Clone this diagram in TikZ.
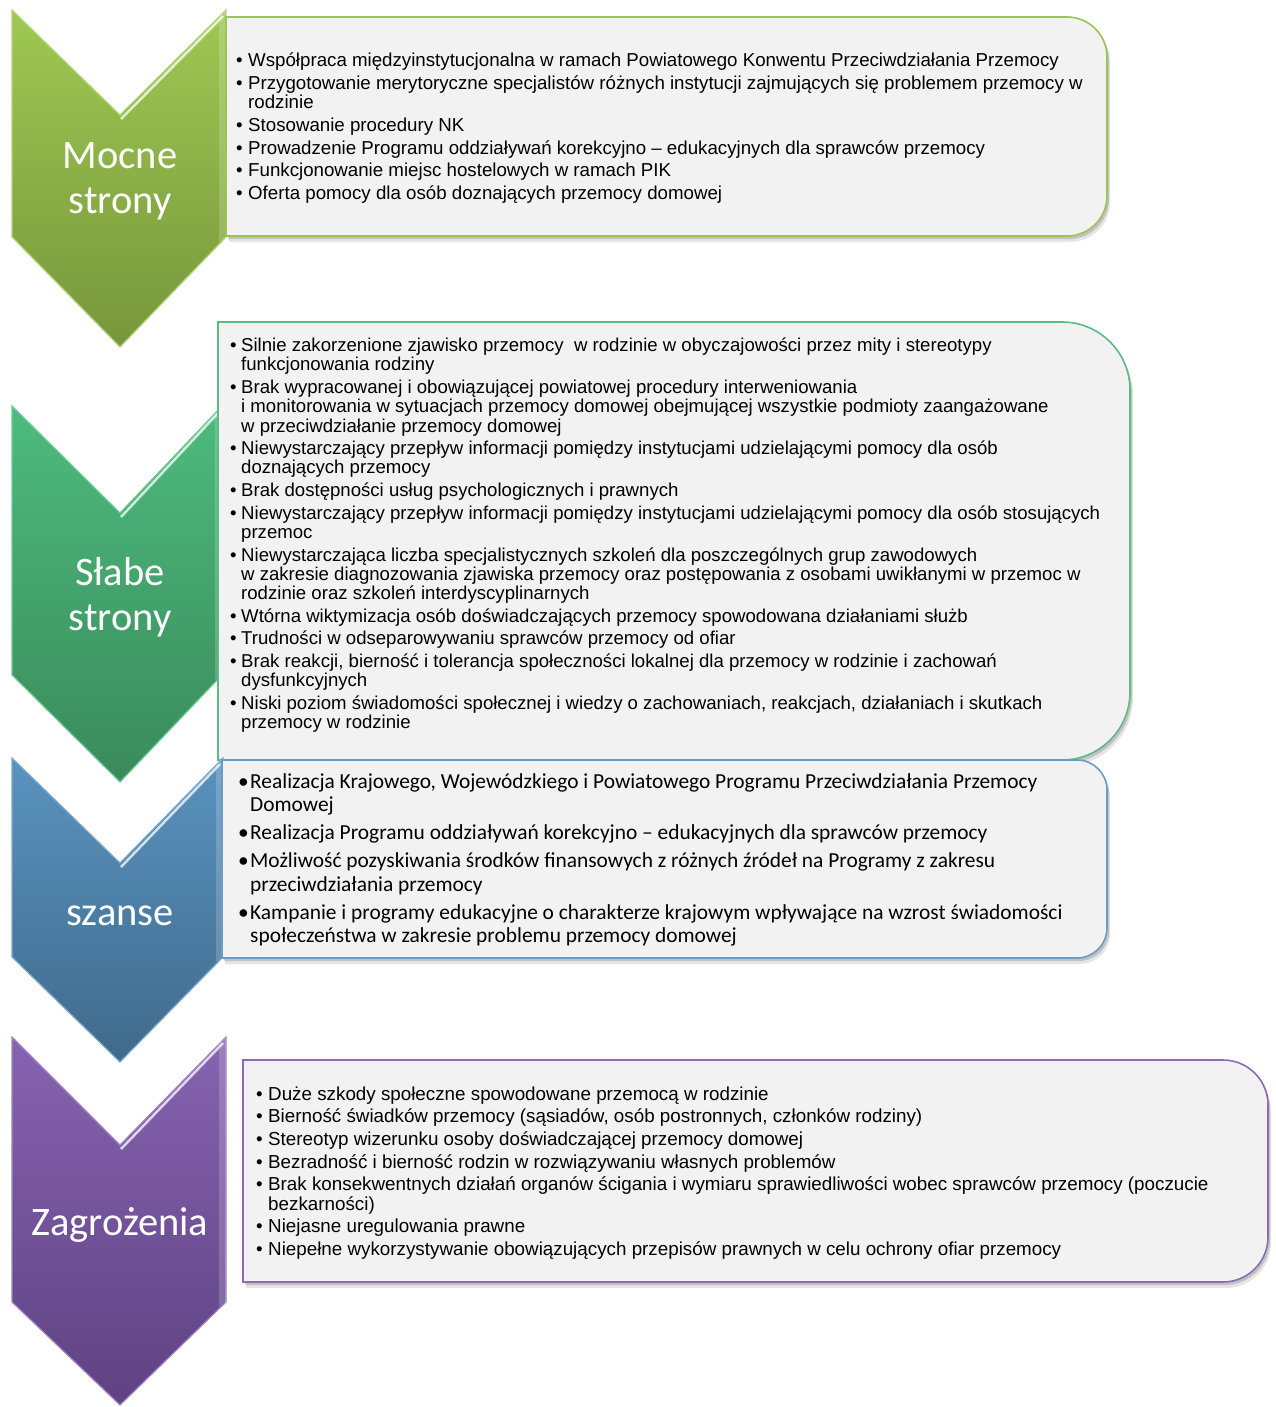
\documentclass[tikz,border=0pt]{standalone}
\usepackage{fontspec}
\setmainfont{Liberation Sans}
\newfontfamily\calfont{Carlito}
\usetikzlibrary{calc}
\definecolor{c1t}{HTML}{9FC853}\definecolor{c1b}{HTML}{77963B}\definecolor{c1e}{HTML}{B3D67A}
\definecolor{c2t}{HTML}{4DBB7E}\definecolor{c2b}{HTML}{3A8A5B}\definecolor{c2e}{HTML}{6FCB95}
\definecolor{c3t}{HTML}{5A93BF}\definecolor{c3b}{HTML}{3F6A8B}\definecolor{c3e}{HTML}{7FA9CE}
\definecolor{c4t}{HTML}{8763B1}\definecolor{c4b}{HTML}{5E4282}\definecolor{c4e}{HTML}{A287C6}
\definecolor{b1}{HTML}{9BC452}\definecolor{b2}{HTML}{5CBB85}\definecolor{b3}{HTML}{6A9CC6}\definecolor{b4}{HTML}{8C6CB4}
\definecolor{boxfill}{HTML}{F2F2F2}
\newlength\bind
\newcommand\bl[1]{\hbox{\makebox[\bind][l]{\textbullet}#1}}
\newcommand\cl[1]{\hbox{\hspace*{\bind}#1}}
% chevron: top y, notch y, right x, bottom-corner y, point y, top colour, bottom colour, edge colour
\newcommand\chevron[8]{%
  \path[top color=#6, bottom color=#7, draw=#8, line width=1.2pt, line join=miter]
    (12,#1) -- (120,#2) -- (#3,#1) -- (#3,#4) -- (120,#5) -- (12,#4) -- cycle;
  \draw[white, opacity=.75, line width=2.5pt] (121,{#2+4}) -- ({#3-3},{#1+6});
  \fill[white, opacity=.18] ({#3-7},{#1+8}) -- (#3,#1) -- (#3,#4) -- ({#3-7},{#4+5}) -- cycle;
}
% box with rounded right corners: x1 y1 x2 y2 r options
\newcommand\rrpath[6]{%
  \path[#6] (#1,#2) -- ({#3-#5},#2) arc[start angle=270,end angle=360,radius=#5]
    -- (#3,{#4-#5}) arc[start angle=0,end angle=90,radius=#5] -- (#1,#4) -- cycle;}
\newcommand\rrbox[6]{%
  \rrpath{#1}{#2}{#3}{#4}{#5}{fill=black, opacity=.10, shift={(3,6)}}
  \rrpath{#1}{#2}{#3}{#4}{#5}{fill=black, opacity=.15, shift={(2,3)}}
  \rrpath{#1}{#2}{#3}{#4}{#5}{fill=boxfill, draw=#6, line width=1.6pt}}
\tikzset{
  lab/.style={anchor=base, inner sep=0pt, text=white, font=\calfont\fontsize{40.5}{45}\selectfont},
  txt/.style={anchor=base west, inner sep=0pt, text=black}
}
\begin{document}
\begin{tikzpicture}[x=1pt,y=-1pt]
\useasboundingbox (0,0) rectangle (1275,1407);
\fill[white] (0,0) rectangle (1275,1407);

% ---- Mocne strony
\chevron{10}{115}{226}{237}{347}{c1t}{c1b}{c1e}
\rrbox{226}{17}{1107}{236}{40}{b1}
\node[lab] (l1a) at (120,168) {Mocne};
\node[lab] (l1b) at (120,213) {strony};
\node[txt] (t1) at (236,66.5) {\vtop{\fontsize{18.7}{19.8}\selectfont\setlength\bind{12pt}%
\bl{Współpraca międzyinstytucjonalna w ramach Powiatowego Konwentu Przeciwdziałania Przemocy}\vskip2.8pt
\bl{Przygotowanie merytoryczne specjalistów różnych instytucji zajmujących się problemem przemocy w}
\cl{rodzinie}\vskip2.8pt
\bl{Stosowanie procedury NK}\vskip2.8pt
\bl{Prowadzenie Programu oddziaływań korekcyjno – edukacyjnych dla sprawców przemocy}\vskip2.8pt
\bl{Funkcjonowanie miejsc hostelowych w ramach PIK}\vskip2.8pt
\bl{Oferta pomocy dla osób doznających przemocy domowej}}};

% ---- Słabe strony
\chevron{406}{513}{222}{675}{782}{c2t}{c2b}{c2e}
\rrbox{218}{322}{1130}{760}{68}{b2}
\node[lab] (l2a) at (120,585) {Słabe};
\node[lab] (l2b) at (120,630) {strony};
\node[txt] (t2) at (230,351.5) {\vtop{\fontsize{18.6}{19.3}\selectfont\setlength\bind{11pt}%
\bl{Silnie zakorzenione zjawisko przemocy \ w rodzinie w obyczajowości przez mity i stereotypy}
\cl{funkcjonowania rodziny}\vskip3.3pt
\bl{Brak wypracowanej i obowiązującej powiatowej procedury interweniowania}
\cl{i monitorowania w sytuacjach przemocy domowej obejmującej wszystkie podmioty zaangażowane}
\cl{w przeciwdziałanie przemocy domowej}\vskip3.3pt
\bl{Niewystarczający przepływ informacji pomiędzy instytucjami udzielającymi pomocy dla osób}
\cl{doznających przemocy}\vskip3.3pt
\bl{Brak dostępności usług psychologicznych i prawnych}\vskip3.3pt
\bl{Niewystarczający przepływ informacji pomiędzy instytucjami udzielającymi pomocy dla osób stosujących}
\cl{przemoc}\vskip3.3pt
\bl{Niewystarczająca liczba specjalistycznych szkoleń dla poszczególnych grup zawodowych}
\cl{w zakresie diagnozowania zjawiska przemocy oraz postępowania z osobami uwikłanymi w przemoc w}
\cl{rodzinie oraz szkoleń interdyscyplinarnych}\vskip3.3pt
\bl{Wtórna wiktymizacja osób doświadczających przemocy spowodowana działaniami służb}\vskip3.3pt
\bl{Trudności w odseparowywaniu sprawców przemocy od ofiar}\vskip3.3pt
\bl{Brak reakcji, bierność i tolerancja społeczności lokalnej dla przemocy w rodzinie i zachowań}
\cl{dysfunkcyjnych}\vskip3.3pt
\bl{Niski poziom świadomości społecznej i wiedzy o zachowaniach, reakcjach, działaniach i skutkach}
\cl{przemocy w rodzinie}}};

% ---- szanse
\chevron{758}{863}{223}{957}{1062}{c3t}{c3b}{c3e}
\rrbox{222}{760}{1107}{958}{30}{b3}
\node[lab] (l3) at (120,925) {szanse};
\node[txt] (t3) at (238,788) {\vtop{\calfont\fontsize{21.4}{23.5}\selectfont\setlength\bind{12pt}%
\bl{Realizacja Krajowego, Wojewódzkiego i Powiatowego Programu Przeciwdziałania Przemocy}
\cl{Domowej}\vskip4.5pt
\bl{Realizacja Programu oddziaływań korekcyjno – edukacyjnych dla sprawców przemocy}\vskip4.5pt
\bl{Możliwość pozyskiwania środków finansowych z różnych źródeł na Programy z zakresu}
\cl{przeciwdziałania przemocy}\vskip4.5pt
\bl{Kampanie i programy edukacyjne o charakterze krajowym wpływające na wzrost świadomości}
\cl{społeczeństwa w zakresie problemu przemocy domowej}}};

% ---- Zagrożenia
\chevron{1037}{1145}{226}{1302}{1405}{c4t}{c4b}{c4e}
\rrbox{243}{1060}{1268}{1282}{45}{b4}
\node[lab] (l4) at (120,1235) {Zagrożenia};
\node[txt] (t4) at (256,1100) {\vtop{\fontsize{18.8}{19.2}\selectfont\setlength\bind{12pt}%
\bl{Duże szkody społeczne spowodowane przemocą w rodzinie}\vskip3.5pt
\bl{Bierność świadków przemocy (sąsiadów, osób postronnych, członków rodziny)}\vskip3.5pt
\bl{Stereotyp wizerunku osoby doświadczającej przemocy domowej}\vskip3.5pt
\bl{Bezradność i bierność rodzin w rozwiązywaniu własnych problemów}\vskip3.5pt
\bl{Brak konsekwentnych działań organów ścigania i wymiaru sprawiedliwości wobec sprawców przemocy (poczucie}
\cl{bezkarności)}\vskip3.5pt
\bl{Niejasne uregulowania prawne}\vskip3.5pt
\bl{Niepełne wykorzystywanie obowiązujących przepisów prawnych w celu ochrony ofiar przemocy}}};
\end{tikzpicture}
\end{document}
